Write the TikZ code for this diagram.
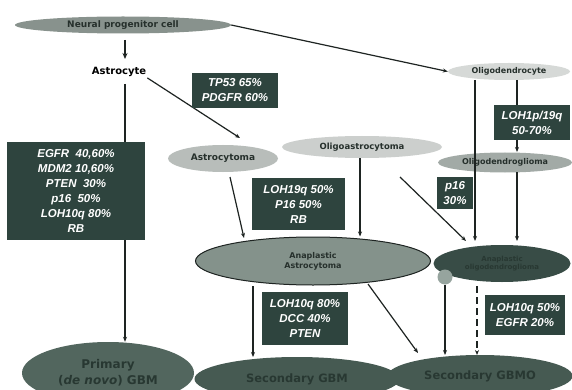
\documentclass[tikz,border=0pt]{standalone}
\usepackage{fontspec}
\setmainfont{Liberation Sans}
\newfontfamily\djv{DejaVu Sans}
\usetikzlibrary{shapes.geometric,arrows.meta}
\definecolor{boxc}{RGB}{46,68,62}
\definecolor{linec}{RGB}{30,36,34}
\definecolor{npcc}{RGB}{136,146,141}
\definecolor{odcc}{RGB}{214,217,215}
\definecolor{astc}{RGB}{184,189,186}
\definecolor{oac}{RGB}{204,207,205}
\definecolor{odgc}{RGB}{162,170,166}
\definecolor{anac}{RGB}{132,146,139}
\definecolor{anoc}{RGB}{56,76,70}
\definecolor{gbmc}{RGB}{82,102,94}
\definecolor{sgc}{RGB}{70,90,82}
\definecolor{txtd}{RGB}{38,48,44}
\definecolor{txtg}{RGB}{40,56,50}
\definecolor{circc}{RGB}{150,164,158}
\begin{document}
\begin{tikzpicture}[x=1pt,y=-1pt,
  mbox/.style={fill=boxc,text=white,font=\bfseries\itshape\fontsize{11.5}{15}\selectfont,
    align=center,inner sep=0pt},
  cell/.style={ellipse,inner sep=0pt,text=txtd,align=center},
  arr/.style={draw=linec,line width=1.2pt,-{Stealth[length=5pt,width=4pt]}},
  ln/.style={draw=linec,line width=1.2pt}]
\clip (0,0) rectangle (572,390);
\useasboundingbox (0,0) rectangle (572,390);
\fill[white] (0,0) rectangle (572,390);

% cells
\node[cell,fill=npcc,minimum width=216pt,minimum height=17pt,font=\djv\bfseries\fontsize{9}{10}\selectfont] (npc) at (123,25) {Neural progenitor cell};
\node[text=black,font=\djv\bfseries\fontsize{10}{11}\selectfont,inner sep=1pt] (astro) at (119,72) {Astrocyte};
\node[cell,fill=odcc,minimum width=122pt,minimum height=17pt,font=\djv\bfseries\fontsize{8}{9}\selectfont] (odc) at (509,71.5) {Oligodendrocyte};
\node[cell,fill=astc,minimum width=110pt,minimum height=27pt,font=\djv\bfseries\fontsize{9}{10}\selectfont] (astroma) at (223,158.5) {Astrocytoma};
\node[cell,fill=oac,minimum width=160pt,minimum height=22pt,font=\djv\bfseries\fontsize{8.5}{10}\selectfont] (oastro) at (362,147) {Oligoastrocytoma};
\node[cell,fill=odgc,minimum width=134pt,minimum height=20pt,font=\djv\bfseries\fontsize{8}{9}\selectfont] (odg) at (505,162.5) {Oligodendroglioma};
\node[cell,fill=anac,draw=linec,line width=1pt,minimum width=235pt,minimum height=48pt,font=\djv\bfseries\fontsize{8}{10}\selectfont] (anastro) at (313,261) {Anaplastic\\Astrocytoma};
\node[cell,fill=anoc,minimum width=137pt,minimum height=37pt,text=txtg,font=\djv\bfseries\fontsize{7}{8.5}\selectfont] (anoligo) at (502,263.5) {Anaplastic\\oligodendroglioma};
\node[circle,fill=circc,minimum size=15pt,inner sep=0pt] (dot) at (445,277) {};
\node[cell,fill=sgc,minimum width=205pt,minimum height=44pt,text=txtg,font=\djv\bfseries\fontsize{11.5}{13}\selectfont] (sgbm) at (297,379) {Secondary GBM};
\node[cell,fill=sgc,minimum width=185pt,minimum height=42pt,text=txtg,font=\djv\bfseries\fontsize{11.5}{13}\selectfont] (sgbmo) at (480,376) {Secondary GBMO};
\node[cell,fill=gbmc,minimum width=172pt,minimum height=62pt,text=txtg,font=\djv\bfseries\fontsize{12}{16}\selectfont] (pgbm) at (108,373) {Primary\\(\textit{de novo}) GBM};

% connectors
\coordinate (a1) at (125,40); \coordinate (a2) at (125,59);
\draw[draw=linec,line width=1.6pt,-{Stealth[length=6pt,width=5pt]}] (a1) -- (a2);
\draw[arr] (npc.east) -- (odc.west);
\draw[arr] (astro.south east) -- (240,138);
\coordinate (astroDown) at (125,84);
\draw[arr] (astroDown) -- (pgbm.north -| astroDown);
\coordinate (amS) at (230,177); \coordinate (anN1) at (244,238);
\draw[arr] (amS) -- (anN1);
\draw[arr] (oastro.south) ++(-2,0) coordinate (oaS) -- (anastro.north -| oaS);
\coordinate (dg1) at (400,177); \coordinate (dg2) at (466,241);
\draw[arr] (dg1) -- (dg2);
\coordinate (odcL) at (475,80);
\draw[arr] (odcL) -- (475,241);
\coordinate (odcR) at (517,80);

% boxes
\node[mbox,minimum width=86pt,minimum height=35pt] (tp53) at (235,90.5) {TP53 65\%\\PDGFR 60\%};
\node[mbox,minimum width=138pt,minimum height=98pt] (egfr) at (76,191) {EGFR\ \ 40,60\%\\MDM2 10,60\%\\PTEN\ \ 30\%\\p16\ \ 50\%\\LOH10q 80\%\\RB};
\node[mbox,minimum width=93pt,minimum height=52pt] (loh19) at (298.5,204) {LOH19q 50\%\\P16 50\%\\RB};
\node[mbox,minimum width=76pt,minimum height=35pt] (loh1p) at (532,122.5) {LOH1\textit{p}/19q\\50-70\%};
\node[mbox,minimum width=36pt,minimum height=32pt] (p16) at (455,193) {p16\\30\%};
\node[mbox,minimum width=86pt,minimum height=53pt] (loh80) at (305,318.5) {LOH10q 80\%\\DCC 40\%\\PTEN};
\node[mbox,minimum width=80pt,minimum height=40pt] (loh50) at (525,315) {LOH10q 50\%\\EGFR 20\%};

\draw[ln] (odcR) -- (loh1p.north -| odcR);
\draw[arr] (loh1p.south -| odcR) -- (517,152);
\coordinate (odgS) at (517,172);
\draw[arr] (odgS) -- (517,241);
\coordinate (anS1) at (253,286);
\draw[arr] (anS1) -- (253,357);
\coordinate (anS2) at (368,284); \coordinate (sgN) at (418,353);
\draw[arr] (anS2) -- (sgN);
\draw[arr] (dot.south) -- (445,355);
\coordinate (dsh) at (477,286);
\draw[arr,dashed,dash pattern=on 7pt off 4pt] (dsh) -- (477,355);
\end{tikzpicture}
\end{document}
